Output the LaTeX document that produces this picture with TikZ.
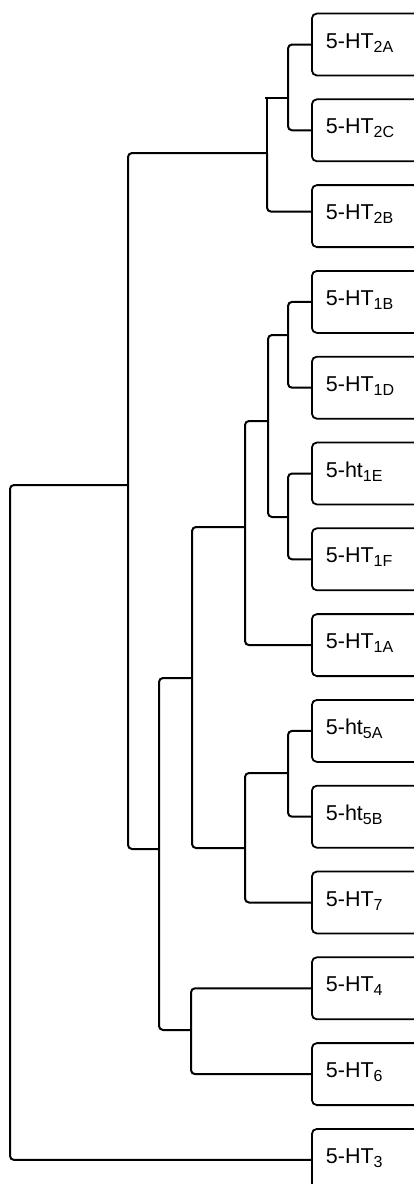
\documentclass[tikz,border=0pt]{standalone}
\usepackage{fontspec}
\setmainfont{Liberation Sans}
\newfontfamily\recmain{Liberation Sans}[Scale=2.15]
\newfontfamily\recsub{Liberation Sans}[Scale=1.6]
\newcommand{\rlab}[2]{\makebox[92pt][l]{\recmain #1\raisebox{-4pt}{\recsub #2}}}
\begin{document}
\begin{tikzpicture}[x=1pt,y=-1pt,
  rec/.style={draw, line width=1.8pt, rounded corners=5pt, anchor=west,
    minimum height=62pt, inner xsep=14pt, text height=16pt, text depth=9pt,
    font=\recmain},
  br/.style={line width=2pt, rounded corners=4pt}]
\useasboundingbox (0,0) rectangle (414,1184);
\clip (0,0) rectangle (414,1184);
% receptor boxes
\node[rec] (r2A) at (311,44.5)  {\rlab{5-HT}{2A}};
\node[rec] (r2C) at (311,130.3) {\rlab{5-HT}{2C}};
\node[rec] (r2B) at (311,216.1) {\rlab{5-HT}{2B}};
\node[rec] (r1B) at (311,301.9) {\rlab{5-HT}{1B}};
\node[rec] (r1D) at (311,387.7) {\rlab{5-HT}{1D}};
\node[rec] (r1E) at (311,473.5) {\rlab{5-ht}{1E}};
\node[rec] (r1F) at (311,559.3) {\rlab{5-HT}{1F}};
\node[rec] (r1A) at (311,645.1) {\rlab{5-HT}{1A}};
\node[rec] (r5A) at (311,730.9) {\rlab{5-ht}{5A}};
\node[rec] (r5B) at (311,816.7) {\rlab{5-ht}{5B}};
\node[rec] (r7)  at (311,902.5) {\rlab{5-HT}{7}};
\node[rec] (r4)  at (311,988.3) {\rlab{5-HT}{4}};
\node[rec] (r6)  at (311,1074.1){\rlab{5-HT}{6}};
\node[rec] (r3)  at (311,1159.9){\rlab{5-HT}{3}};
% internal branch points (x of vertical bar, y where parent attaches)
\coordinate (c2AC)   at (288,98);
\coordinate (c2)     at (267,153);
\coordinate (c1BD)   at (288,335);
\coordinate (c1EF)   at (288,517);
\coordinate (c1BDEF) at (268,421);
\coordinate (c1)     at (245,527);
\coordinate (c5)     at (288,773);
\coordinate (c57)    at (245,848);
\coordinate (c157)   at (192,678);
\coordinate (c46)    at (191,1030);
\coordinate (cX)     at (159,849);
\coordinate (cM)     at (128,485);
\coordinate (root)   at (10,485);
% branches
\draw[br] (r2A.west) -| (c2AC) |- (r2C.west);
\draw[br, sharp corners] (c2AC) -- ([xshift=-2pt]c2AC -| c2) (c2AC -| c2) -- (c2);
\draw[br] (c2) |- ([yshift=4.5pt]r2B.west);
\draw[br] (r1B.west) -| (c1BD) |- (r1D.west);
\draw[br] (r1E.west) -| (c1EF) |- (r1F.west);
\draw[br] (c1BD) -| (c1BDEF) |- (c1EF);
\draw[br] (c1BDEF) -| (c1) |- (r1A.west);
\draw[br] (r5A.west) -| (c5) |- (r5B.west);
\draw[br] (c5) -| (c57) |- (r7.west);
\draw[br] (c1) -| (c157) |- (c57);
\draw[br] (r4.west) -| (c46) |- (r6.west);
\draw[br] (c157) -| (cX) |- (c46);
\draw[br] (c2) -| (cM) |- (cX);
\draw[br] (cM) -- (root) |- (r3.west);
\end{tikzpicture}
\end{document}
